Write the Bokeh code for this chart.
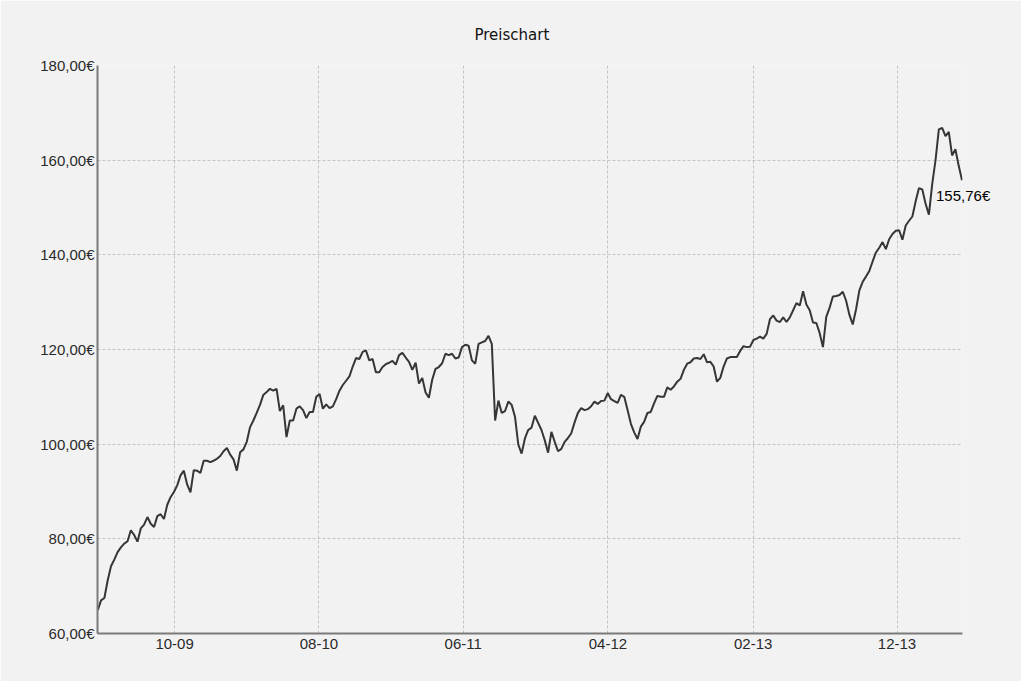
import pandas as pd
from datetime import datetime
from bokeh.plotting import figure
from bokeh.models import (ColumnDataSource, Range1d, FixedTicker, DatetimeTickFormatter, Label)
from bokeh.embed import file_html
from bokeh.resources import INLINE

# ---- data (weekly closing prices) ----
start_date = "2009-04-22"
end_date = "2014-04-17"
prices = [
    64.9, 67.0, 67.5, 71.2, 74.2, 75.6, 77.2, 78.2, 79.0, 79.5,
    81.8, 80.8, 79.4, 82.2, 83.0, 84.6, 83.2, 82.5, 84.8, 85.2,
    84.2, 87.2, 88.8, 89.9, 91.3, 93.4, 94.4, 91.5, 89.8, 94.5,
    94.4, 93.9, 96.5, 96.5, 96.2, 96.5, 96.9, 97.5, 98.5, 99.2,
    97.8, 96.8, 94.4, 98.3, 98.9, 100.5, 103.6, 105.0, 106.6, 108.3,
    110.4, 111.0, 111.7, 111.3, 111.7, 107.0, 108.2, 101.5, 105.0, 105.0,
    107.5, 108.0, 107.2, 105.5, 106.8, 106.8, 110.0, 110.6, 107.5, 108.4,
    107.6, 108.0, 109.5, 111.3, 112.5, 113.4, 114.3, 116.4, 118.2, 118.0,
    119.5, 119.8, 117.7, 118.0, 115.2, 115.2, 116.3, 116.9, 117.2, 117.6,
    116.8, 118.8, 119.3, 118.3, 117.4, 115.7, 117.2, 112.8, 114.0, 110.9,
    109.8, 113.6, 115.9, 116.3, 117.1, 119.1, 118.8, 119.1, 118.1, 118.3,
    120.5, 121.0, 120.8, 117.7, 117.0, 121.2, 121.5, 121.8, 122.9, 121.2,
    105.0, 109.2, 106.6, 107.0, 109.0, 108.3, 105.8, 99.9, 98.0, 101.2,
    103.0, 103.5, 106.0, 104.5, 103.0, 100.8, 98.2, 102.6, 100.5, 98.5,
    99.0, 100.5, 101.3, 102.3, 104.6, 106.6, 107.6, 107.2, 107.4, 108.0,
    109.0, 108.5, 109.1, 109.2, 110.8, 109.5, 109.1, 108.7, 110.4, 110.0,
    107.2, 104.3, 102.5, 101.1, 103.7, 104.7, 106.6, 106.8, 108.6, 110.2,
    110.0, 110.0, 112.0, 111.5, 112.2, 113.2, 113.8, 115.7, 117.0, 117.3,
    118.1, 118.2, 118.0, 119.0, 117.3, 117.4, 116.4, 113.2, 114.0, 116.4,
    118.1, 118.4, 118.4, 118.4, 119.7, 120.7, 120.5, 120.6, 122.0, 122.3,
    122.7, 122.3, 123.3, 126.4, 127.2, 126.1, 125.8, 126.8, 125.8, 126.8,
    128.3, 129.8, 129.3, 132.3, 129.5, 128.3, 125.7, 125.6, 123.5, 120.5,
    126.9, 128.8, 131.2, 131.3, 131.5, 132.2, 130.3, 127.3, 125.3, 128.5,
    132.5, 134.3, 135.4, 136.6, 138.6, 140.5, 141.5, 142.7, 141.2, 143.3,
    144.4, 145.1, 145.2, 143.2, 146.2, 147.2, 148.1, 151.3, 154.1, 153.8,
    150.8, 148.5, 155.0, 160.0, 166.5, 166.8, 165.1, 166.0, 161.0, 162.3,
    158.8, 155.76,
]
tick_dates = ["2009-10-01", "2010-08-01", "2011-06-01", "2012-04-01", "2013-02-01", "2013-12-01"]
y_ticks = [60, 80, 100, 120, 140, 160, 180]
y_labels = ["60,00€", "80,00€", "100,00€", "120,00€", "140,00€", "160,00€", "180,00€"]
title_text = "Preischart"

dates = pd.date_range(start=start_date, end=end_date, periods=len(prices))
source = ColumnDataSource(data=dict(date=dates, price=prices))

BG = "#f2f2f2"
FONT = "Liberation Sans"

p = figure(
    width=1021, height=681,
    x_axis_type="datetime",
    x_range=Range1d(start=datetime(2009, 4, 21, 12), end=datetime(2014, 4, 18)),
    y_range=Range1d(start=60, end=180),
    output_backend="svg", toolbar_location=None,
    min_border_left=97, min_border_right=59, min_border_top=65, min_border_bottom=48,
    background_fill_color=BG, border_fill_color=BG,
)
p.outline_line_color = None

p.line("date", "price", source=source, line_color="#363636", line_width=2)

# x axis
tick_ms = [pd.Timestamp(d).value // 10**6 for d in tick_dates]
p.xaxis.ticker = FixedTicker(ticks=tick_ms)
fmt = "%m-%y"
p.xaxis.formatter = DatetimeTickFormatter(
    microseconds=fmt, milliseconds=fmt, seconds=fmt, minsec=fmt, minutes=fmt,
    hourmin=fmt, hours=fmt, days=fmt, months=fmt, years=fmt)

# y axis
p.yaxis.ticker = FixedTicker(ticks=y_ticks)
p.yaxis.major_label_overrides = {t: l for t, l in zip(y_ticks, y_labels)}

for ax in (p.xaxis[0], p.yaxis[0]):
    ax.axis_line_color = "#7a7a7a"
    ax.axis_line_width = 2
    ax.major_tick_line_color = None
    ax.minor_tick_line_color = None
    ax.major_tick_out = 0
    ax.major_tick_in = 0
    ax.minor_tick_out = 0
    ax.minor_tick_in = 0
    ax.major_label_text_font = FONT
    ax.major_label_text_font_size = "15px"
    ax.major_label_text_color = "#2a2a2a"
p.yaxis.major_label_standoff = 3
p.xaxis.major_label_standoff = 5

for g in (p.xgrid[0], p.ygrid[0]):
    g.grid_line_color = "#c4c4c4"
    g.grid_line_width = 1
    g.grid_line_dash = "3 2"

# title
p.title.text = title_text
p.title.align = "left"
p.title.vertical_align = "top"
p.title.text_font = "DejaVu Sans"
p.title.text_font_size = "15px"
p.title.text_font_style = "normal"
p.title.text_color = "#111111"
p.title.offset = 377
p.title.standoff = 40

# last value label (placed in the right side panel so it is not clipped by the frame)
last_text = f"{prices[-1]:.2f}".replace(".", ",") + "€"
p.add_layout(Label(x=dates[-1], y=prices[-1], text=last_text, x_offset=-26, y_offset=-15,
                   text_font=FONT, text_font_size="15px", text_color="#000000",
                   text_align="left", text_baseline="middle"), "right")

open("out.html", "w").write(file_html(p, INLINE))
